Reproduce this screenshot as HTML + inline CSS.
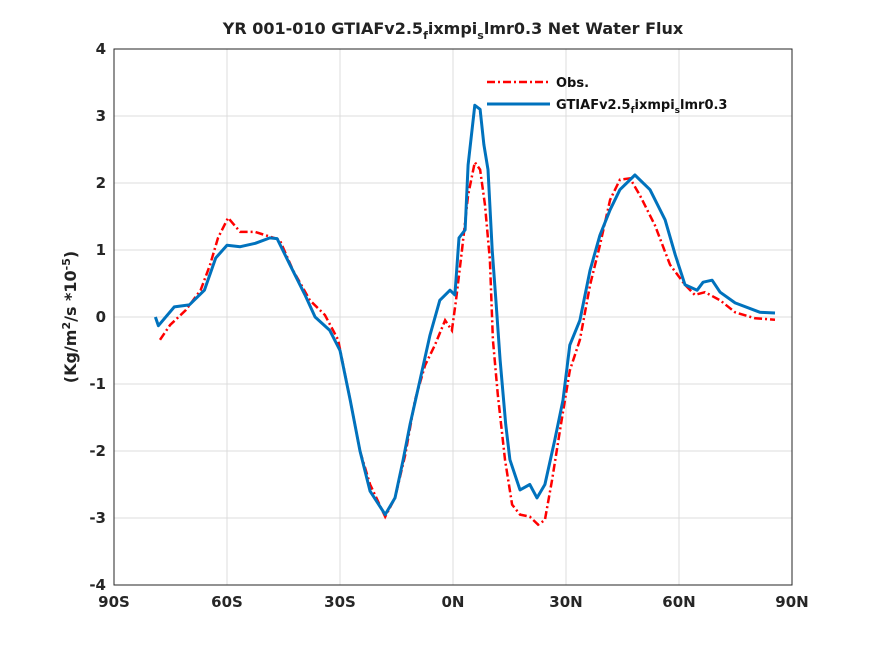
<!DOCTYPE html>
<html><head><meta charset="utf-8"><style>
body{margin:0;background:#fff;}
svg{font-family:"DejaVu Sans","Liberation Sans",sans-serif;font-weight:bold;}
</style></head><body>
<svg id="chart" width="875" height="656">
<rect width="875" height="656" fill="#fff"/>
<text x="453" y="34" font-size="16" text-anchor="middle" fill="#222">YR 001-010 GTIAFv2.5<tspan font-size="11" dy="5">f</tspan><tspan dy="-5">ixmpi</tspan><tspan font-size="11" dy="5">s</tspan><tspan dy="-5">lmr0.3  Net Water Flux</tspan></text>
<g id="grid"></g>
<g id="series"></g>
<rect x="114" y="49" width="678" height="536" fill="none" stroke="#262626" stroke-width="1"/>
<g id="ticks"></g>
<text transform="translate(76,317) rotate(-90)" font-size="16" text-anchor="middle" fill="#222">(Kg/m<tspan font-size="11" dy="-6">2</tspan><tspan dy="6">/s *10</tspan><tspan font-size="11" dy="-6">-5</tspan><tspan dy="6">)</tspan></text>
<g>
<line x1="487" y1="82" x2="550" y2="82" stroke="#f00" stroke-width="2.5" stroke-dasharray="8,3,2,3"/>
<text x="556" y="87" font-size="13" fill="#111">Obs.</text>
<line x1="487" y1="104" x2="550" y2="104" stroke="#0072bd" stroke-width="3"/>
<text x="556" y="109" font-size="13" fill="#111">GTIAFv2.5<tspan font-size="9" dy="4">f</tspan><tspan dy="-4">ixmpi</tspan><tspan font-size="9" dy="4">s</tspan><tspan dy="-4">lmr0.3</tspan></text>
</g>
</svg>
<script>
const xTicks=[-90,-60,-30,0,30,60,90];
const xTickLabels=["90S","60S","30S","0N","30N","60N","90N"];
const yTicks=[-4,-3,-2,-1,0,1,2,3,4];
const obsLat=[-77.8,-75.1,-71,-67,-64.5,-62.4,-59.7,-56.5,-52.6,-48.6,-46,-42.5,-38,-34,-30.5,-27.3,-24.7,-22,-18,-15.4,-12.7,-10.1,-7.4,-4.8,-2.1,-0.3,0.8,2.4,4,5.8,7.2,8.5,9.8,10.6,11.9,13.8,15.7,17.8,20.4,22.6,24.4,26.3,28.4,31,33.7,36.4,39,41.7,44.3,47,49.6,53.6,57.6,61.6,64.2,66.9,70.9,74.9,80.2,85.5];
const obsVal=[-0.34,-0.12,0.1,0.4,0.78,1.18,1.48,1.27,1.27,1.2,1.15,0.7,0.25,0.03,-0.34,-1.24,-2,-2.5,-2.98,-2.7,-2.06,-1.24,-0.72,-0.42,-0.05,-0.2,0.25,1,1.82,2.31,2.2,1.67,0.85,-0.34,-1.16,-2.13,-2.8,-2.95,-2.98,-3.1,-3.03,-2.43,-1.69,-0.8,-0.34,0.48,1.07,1.75,2.05,2.07,1.82,1.37,0.78,0.48,0.33,0.37,0.25,0.07,-0.02,-0.04];
const modLat=[-79,-78.2,-74,-70,-66,-63,-60,-56.5,-52.5,-48.6,-46.7,-43.3,-39.3,-36.6,-32.7,-30,-27.3,-24.7,-22,-18,-15.4,-13.3,-11.4,-8.8,-6.1,-3.5,-0.8,0.5,1.6,3.2,4,5.8,7.2,8.2,9.3,10.4,11.4,12.5,14,15.1,17.8,20.4,22.3,24.4,27,29.2,31,33.7,36.4,39,41.7,44.3,48.3,52.3,56.3,59,61.6,64.8,66.4,68.8,70.9,74.9,81.5,85.5];
const modVal=[0,-0.13,0.15,0.18,0.4,0.88,1.07,1.05,1.1,1.18,1.17,0.78,0.33,0,-0.2,-0.5,-1.24,-2,-2.6,-2.95,-2.7,-2.15,-1.6,-0.95,-0.27,0.25,0.4,0.33,1.18,1.3,2.27,3.16,3.1,2.57,2.2,1,0.25,-0.64,-1.6,-2.13,-2.58,-2.5,-2.7,-2.5,-1.84,-1.24,-0.42,-0.05,0.7,1.22,1.6,1.9,2.12,1.9,1.45,0.93,0.48,0.4,0.52,0.55,0.37,0.21,0.07,0.06];
const X0=114,X1=792,Y0=49,Y1=585;
const sx=v=>X0+(v+90)/180*(X1-X0);
const sy=v=>Y1-(v+4)/8*(Y1-Y0);
const NS="http://www.w3.org/2000/svg";
const grid=document.getElementById('grid'),ticks=document.getElementById('ticks'),ser=document.getElementById('series');
function mk(tag,attrs,parent){const e=document.createElementNS(NS,tag);for(const k in attrs)e.setAttribute(k,attrs[k]);parent.appendChild(e);return e;}
xTicks.forEach((t,i)=>{
  const g=mk('line',{x1:sx(t),x2:sx(t),y1:Y0,y2:Y1,stroke:'#dcdcdc','stroke-width':1},grid);
  
  
  const tx=mk('text',{x:sx(t),y:Y1+22,'font-size':15,'text-anchor':'middle',fill:'#262626'},ticks);
  tx.textContent=xTickLabels[i];
  
  
});
yTicks.forEach(t=>{
  const g=mk('line',{x1:X0,x2:X1,y1:sy(t),y2:sy(t),stroke:'#dcdcdc','stroke-width':1},grid);
  
  
  const tx=mk('text',{x:X0-8,y:sy(t)+5,'font-size':15,'text-anchor':'end',fill:'#262626'},ticks);
  tx.textContent=String(t);
  
  
});
function path(lat,val){return lat.map((l,i)=>(i?'L':'M')+sx(l).toFixed(1)+','+sy(val[i]).toFixed(1)).join('');}
const po=mk('path',{d:path(obsLat,obsVal),fill:'none',stroke:'#f00','stroke-width':2.5,'stroke-dasharray':'8,3,2,3'},ser);


const pm=mk('path',{d:path(modLat,modVal),fill:'none',stroke:'#0072bd','stroke-width':3,'stroke-linejoin':'round'},ser);


</script>
</body></html>
